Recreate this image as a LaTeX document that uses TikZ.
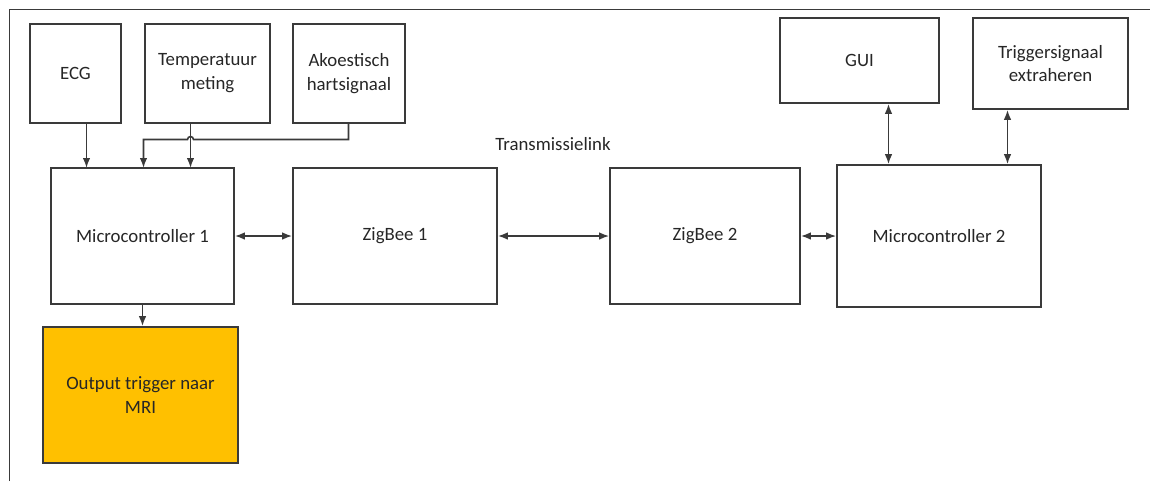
\documentclass[tikz,border=0pt]{standalone}
\usepackage{fontspec}
\setmainfont{Carlito}
\usetikzlibrary{arrows.meta}

\definecolor{linegray}{HTML}{3A3A3A}
\definecolor{textgray}{HTML}{262626}
\definecolor{trigorange}{HTML}{FFC000}

\tikzset{
  block/.style={draw=linegray, line width=0.9pt, align=center, text=textgray,
    font=\fontsize{10.7}{13.6}\selectfont, inner sep=0pt},
  arr/.style={draw=linegray, line width=0.9pt, -{Latex[length=0.2cm,width=0.15cm]}},
  arrtwo/.style={draw=linegray, line width=0.9pt, {Latex[length=0.2cm,width=0.15cm]}-{Latex[length=0.2cm,width=0.15cm]}},
}

\begin{document}
\begin{tikzpicture}[x=0.02cm, y=-0.02cm]
  \useasboundingbox (0,0) rectangle (1150,481);
  % frame
  \draw[linegray, line width=0.9pt] (9.5,481) -- (9.5,9.5) -- (1150,9.5);

  % inputs
  \node[block, minimum width=1.82cm, minimum height=1.98cm] (ecg) at (75.5,73.5) {ECG};
  \node[block, minimum width=2.50cm, minimum height=1.98cm] (temp) at (207.5,73.5) {Temperatuur\\meting};
  \node[block, minimum width=2.24cm, minimum height=1.98cm] (akoe) at (349,73.5) {Akoestisch\\hartsignaal};

  % main chain
  \node[block, minimum width=3.66cm, minimum height=2.72cm] (mc1) at (142.5,236) {Microcontroller 1};
  \node[block, minimum width=4.08cm, minimum height=2.72cm] (zb1) at (395,236) {ZigBee 1};
  \node[block, minimum width=3.80cm, minimum height=2.72cm] (zb2) at (705,236) {ZigBee 2};
  \node[block, minimum width=4.08cm, minimum height=2.84cm] (mc2) at (939,236) {Microcontroller 2};
  \node[block, fill=trigorange, minimum width=3.90cm, minimum height=2.72cm] (out) at (140.5,395) {Output trigger naar\\MRI};

  % outputs side 2
  \node[block, minimum width=3.18cm, minimum height=1.70cm] (gui) at (859.5,60.5) {GUI};
  \node[block, minimum width=3.10cm, minimum height=1.82cm] (trig) at (1050.5,63.5) {Triggersignaal\\extraheren};

  \node[text=textgray, font=\fontsize{10.7}{13.6}\selectfont] (link) at (553,144) {Transmissielink};

  % ports
  \coordinate (in1) at (86.5,168);
  \coordinate (in2) at (190.5,168);
  \coordinate (in3) at (143.5,168);
  \coordinate (bus) at (348.5,139.5);
  \coordinate (g) at (888.5,0);
  \coordinate (t) at (1007.5,0);

  \draw[arr] (ecg.south -| in1) -- (in1);
  \draw[arr] (temp.south -| in2) -- (in2);
  \draw[arr] (akoe.south -| bus) -- (bus) -- (193.5,139.5) arc (0:-180:3) -- (in3 |- bus) -- (in3);
  \draw[arr] (mc1.south) -- (mc1.south |- out.north);

  \draw[arrtwo] (mc1.east) -- (zb1.west);
  \draw[arrtwo] (zb1.east) -- (zb2.west);
  \draw[arrtwo] (zb2.east) -- (mc2.west);
  \draw[arrtwo] (gui.south -| g) -- (mc2.north -| g);
  \draw[arrtwo] (trig.south -| t) -- (mc2.north -| t);
\end{tikzpicture}
\end{document}
